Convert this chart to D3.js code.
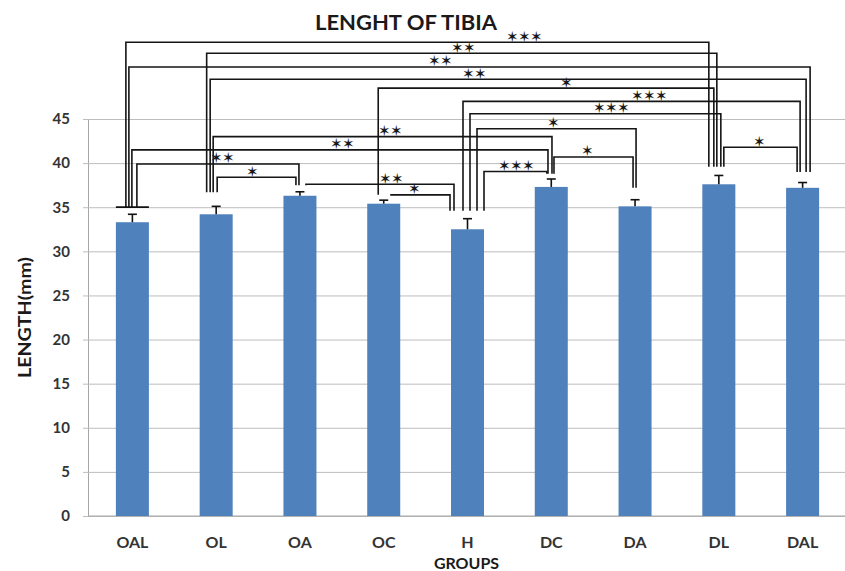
<!DOCTYPE html>
<html>
<head>
<meta charset="utf-8">
<script src="https://cdn.jsdelivr.net/npm/d3@7"></script>
<style>
  body { margin: 0; background: #fff; }
  text { font-family: Lato, "Open Sans", sans-serif; }
</style>
</head>
<body>
<svg id="chart" width="845" height="571"></svg>
<script>
// Tibia length per group (mean and error, mm)
const groups = ["OAL", "OL", "OA", "OC", "H", "DC", "DA", "DL", "DAL"];
const meanLength = [33.3, 34.2, 36.3, 35.4, 32.5, 37.3, 35.1, 37.6, 37.2];
const errLength = [0.9, 0.9, 0.45, 0.4, 1.2, 0.9, 0.75, 1.0, 0.6];
const yTicks = [0, 5, 10, 15, 20, 25, 30, 35, 40, 45];

// Pairwise significance: [group A, group B, stars]
const comparisons = [
  ["OAL", "DL", "***"],
  ["OL", "DL", "**"],
  ["OAL", "DAL", "**"],
  ["OL", "DAL", "**"],
  ["OC", "DL", "*"],
  ["H", "DAL", "***"],
  ["H", "DL", "***"],
  ["H", "DA", "*"],
  ["OL", "DC", "**"],
  ["OAL", "DC", "**"],
  ["OAL", "OA", "**"],
  ["OL", "OA", "*"],
  ["OA", "H", "**"],
  ["OC", "H", "*"],
  ["H", "DC", "***"],
  ["DC", "DA", "*"],
  ["DL", "DAL", "*"]
];

// Bracket layout: level of each bracket (in mm), leg shifts from the bar centre (px),
// star position along the bracket (fraction), and where the legs stop for each group (mm)
const bracketLevel = [53.7, 52.45, 50.9, 49.5, 48.5, 47.0, 45.6, 43.9, 43.0, 41.5, 39.9, 38.4, 37.6, 36.4, 39.05, 40.7, 41.8];
const legShift = [[-6.5, -10], [-9.5, -2], [-3.5, 7.5], [-6, 3.5], [-5.5, -5], [-4.5, -2.5], [2.5, 2], [9.5, 1],
                  [-3, 0.7], [-0.5, -3.3], [4.5, -1], [1, -4], [6, -13.5], [6.5, -17.5], [16.5, -4.5], [2.7, -2], [5, -5.5]];
const labelAt = [0.684, 0.504, 0.458, 0.443, 0.56, 0.553, 0.565, 0.478, 0.522, 0.507, 0.53, 0.443, 0.58, 0.4, 0.51, 0.43, 0.48];
const legFoot = { OAL: 35, OL: 36.7, OA: 37.5, OC: 36.4, H: 34.6, DC: 38.8, DA: 37.2, DL: 39.6, DAL: 39.0 };

const svg = d3.select("#chart");
const plotLeft = 88, plotRight = 845, plotTop = 119, plotBottom = 516;

const x = d3.scaleBand()
  .domain(groups)
  .range([90.5, 844.5])
  .paddingInner(0.606)
  .paddingOuter(0.303);

const y = d3.scaleLinear()
  .domain([0, 45])
  .range([plotBottom, plotTop]);

// Horizontal gridlines and value axis
const yAxis = svg.append("g")
  .attr("transform", `translate(${plotLeft},0)`)
  .call(d3.axisLeft(y).tickValues(yTicks).tickSizeInner(-(plotRight - plotLeft)).tickSizeOuter(0).tickPadding(18));
yAxis.select(".domain").attr("stroke", "#a6a6a6");
yAxis.selectAll(".tick line").attr("x1", -5).attr("stroke", "#bdbdbd").attr("stroke-width", 1);
yAxis.selectAll(".tick text")
  .attr("font-family", "Lato, sans-serif")
  .attr("font-weight", "bold")
  .attr("font-size", 15)
  .attr("fill", "#333");

// Category axis
const xAxis = svg.append("g")
  .attr("transform", `translate(0,${plotBottom})`)
  .call(d3.axisBottom(x).tickSize(0).tickPadding(21));
xAxis.select(".domain").attr("d", `M${plotLeft},0H${plotRight}`).attr("stroke", "#a6a6a6");
xAxis.selectAll(".tick text")
  .attr("font-family", "Lato, sans-serif")
  .attr("font-weight", "bold")
  .attr("font-size", 16)
  .attr("fill", "#333");

// Bars
svg.append("g").selectAll("rect")
  .data(groups)
  .join("rect")
  .attr("x", d => x(d))
  .attr("y", (d, i) => y(meanLength[i]))
  .attr("width", x.bandwidth())
  .attr("height", (d, i) => y(0) - y(meanLength[i]))
  .attr("fill", "#4f81bd");

// Error bars (upper half with cap)
const cx = d => x(d) + x.bandwidth() / 2;
const eb = svg.append("g").attr("stroke", "#111").attr("stroke-width", 1.6);
groups.forEach((g, i) => {
  eb.append("line").attr("x1", cx(g)).attr("x2", cx(g))
    .attr("y1", y(meanLength[i])).attr("y2", y(meanLength[i] + errLength[i]));
  eb.append("line").attr("x1", cx(g) - 4.5).attr("x2", cx(g) + 4.5)
    .attr("y1", y(meanLength[i] + errLength[i])).attr("y2", y(meanLength[i] + errLength[i]));
});

// Significance brackets
const br = svg.append("g");
svg.append("line")
  .attr("x1", x("OAL")).attr("x2", x("OAL") + x.bandwidth())
  .attr("y1", y(legFoot.OAL)).attr("y2", y(legFoot.OAL))
  .attr("stroke", "#111").attr("stroke-width", 1.8);

comparisons.forEach(([a, b, stars], i) => {
  const xa = cx(a) + legShift[i][0];
  const xb = cx(b) + legShift[i][1];
  const yl = y(bracketLevel[i]);
  br.append("path")
    .attr("d", `M${xa},${y(legFoot[a])}V${yl}H${xb}V${y(legFoot[b])}`)
    .attr("fill", "none")
    .attr("stroke", "#151515")
    .attr("stroke-width", 1.6);
  // one star glyph per significance mark
  const mid = xa + (xb - xa) * labelAt[i];
  const n = stars.length;
  for (let k = 0; k < n; k++) {
    br.append("text")
      .attr("x", mid + (k - (n - 1) / 2) * 12)
      .attr("y", yl - 0.5)
      .attr("text-anchor", "middle")
      .attr("font-family", "DejaVu Sans, sans-serif")
      .attr("font-size", 15)
      .attr("fill", "#1a1a1a")
      .text("\u2736");
  }
});

// Titles
svg.append("text")
  .attr("x", 406).attr("y", 30)
  .attr("text-anchor", "middle")
  .attr("font-weight", "bold")
  .attr("font-size", 21)
  .attr("fill", "#1a1a1a")
  .attr("textLength", 182)
  .attr("lengthAdjust", "spacingAndGlyphs")
  .text("LENGHT OF TIBIA");

svg.append("text")
  .attr("transform", `translate(31,${(plotTop + plotBottom) / 2}) rotate(-90)`)
  .attr("text-anchor", "middle")
  .attr("font-weight", "bold")
  .attr("font-size", 16.5)
  .attr("fill", "#1a1a1a")
  .attr("textLength", 121)
  .attr("lengthAdjust", "spacingAndGlyphs")
  .text("LENGTH(mm)");

svg.append("text")
  .attr("x", (plotLeft + plotRight) / 2).attr("y", 569)
  .attr("text-anchor", "middle")
  .attr("font-weight", "bold")
  .attr("font-size", 16)
  .attr("fill", "#1a1a1a")
  .text("GROUPS");
</script>
</body>
</html>
